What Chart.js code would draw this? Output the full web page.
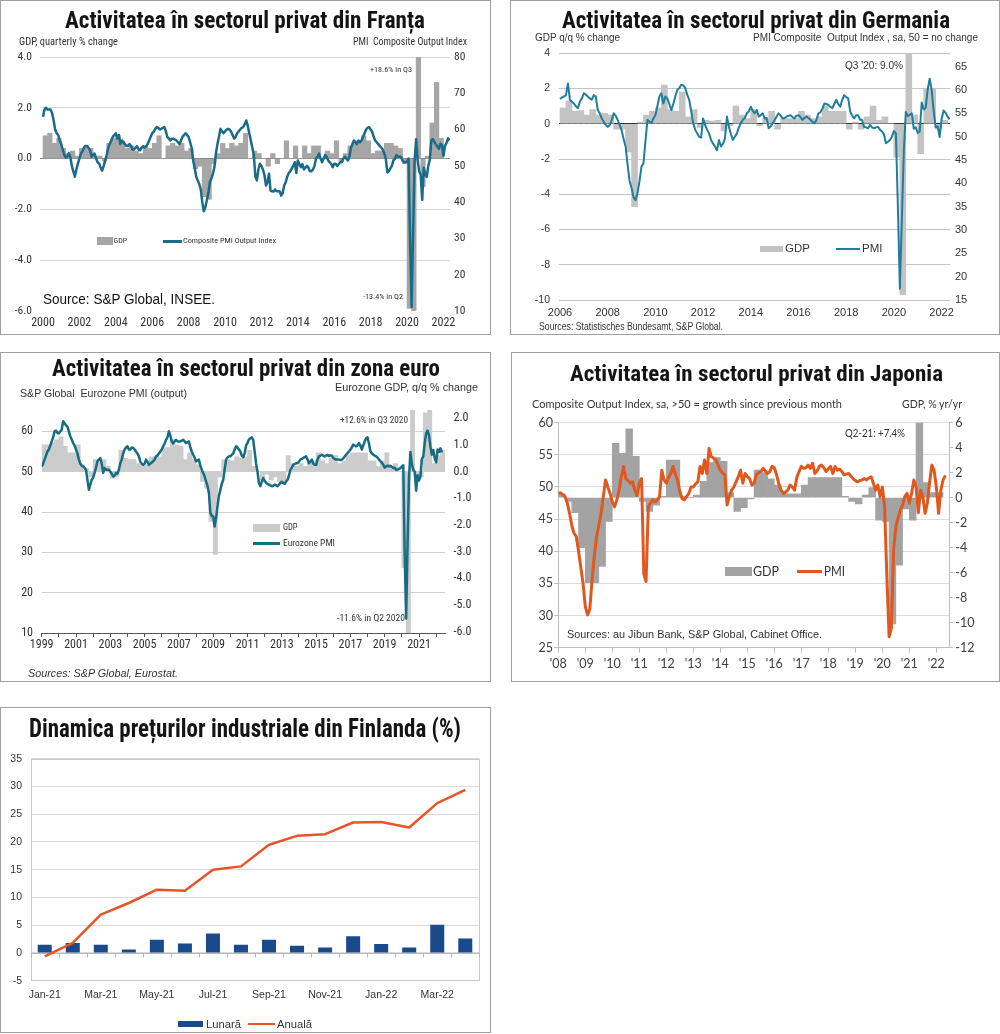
<!DOCTYPE html>
<html lang="ro">
<head>
<meta charset="utf-8">
<title>Activitatea în sectorul privat</title>
<script src="https://cdn.jsdelivr.net/npm/chart.js@4.4.1/dist/chart.umd.min.js"></script>
<style>
  html, body { margin: 0; padding: 0; background: #fff; }
  body { position: relative; width: 1000px; height: 1034px; overflow: hidden; }
  .panel { position: absolute; box-sizing: border-box; border: 1px solid #a0a0a0; }
  canvas { position: absolute; }
  .t { position: absolute; white-space: pre; transform-origin: 0 0; }
  .sw { position: absolute; }
</style>
</head>
<body>
<div class="panel" style="left:0;top:0;width:491px;height:335px"></div>
<div class="panel" style="left:510px;top:0;width:490px;height:335px"></div>
<div class="panel" style="left:0;top:352px;width:491px;height:330px"></div>
<div class="panel" style="left:511px;top:352px;width:489px;height:330px"></div>
<div class="panel" style="left:0;top:707px;width:491px;height:326px"></div>
<script>
const NARROW = '"Liberation Sans Narrow", "Arial Narrow", "Roboto Condensed", "DejaVu Sans Condensed", sans-serif';
const ARIAL = '"Liberation Sans", Arial, sans-serif';
const CALIBRI = 'Lato, "Open Sans", sans-serif';

// ---------- France: GDP q/q (left), PMI (right) ----------
const frYears = [2000, 2002, 2004, 2006, 2008, 2010, 2012, 2014, 2016, 2018, 2020, 2022];
const frGdpTicks = [-6, -4, -2, 0, 2, 4];
const frPmiTicks = [10, 20, 30, 40, 50, 60, 70, 80];
// quarterly, 2000Q1 - 2022Q1
const frGdp = [
  0.9, 1.0, 0.6, 0.8,   0.4, 0.2, 0.3, 0.1,   0.4, 0.5, 0.4, 0.1,   0.1, -0.1, 0.6, 0.8,
  0.9, 0.7, 0.4, 0.5,   0.3, 0.2, 0.5, 0.4,   0.6, 0.9, 0.0, 0.5,   0.6, 0.5, 0.6, 0.3,
  0.4, -0.4, -0.3, -1.5, -1.6, -0.2, 0.2, 0.6, 0.4, 0.6, 0.5, 0.6,  1.0, 0.0, 0.3, 0.2,
  0.0, -0.3, 0.2, -0.2, 0.0, 0.7, 0.0, 0.5,   0.0, 0.5, 0.2, 0.5,   0.5, 0.0, 0.3, 0.2,
  0.7, -0.1, 0.2, 0.5,  0.7, 0.7, 0.9, 0.7,   0.2, 0.3, 0.3, 0.6,   0.6, 0.5, 0.4, -0.2,
  -5.9, -13.4, 18.6, -1.1, 0.1, 1.4, 3.0, 0.8, 0.0
];
// monthly, Jan 2000 - May 2022
const frPmi = [
  63.5, 65.5, 66, 65.5, 65.5, 65.5, 64.5, 62.5, 60, 59, 58.5, 57,
  56, 54.5, 53, 52.3, 52.5, 53.5, 52.5, 50, 48.5, 47, 49, 50.6,
  52, 53.4, 54, 55, 55.5, 55.5, 55, 54.3, 52.5, 53, 53.4, 52,
  51, 50.6, 49.5, 48.7, 50, 51.5, 53, 55, 56, 57, 58, 58.5,
  59, 57.5, 58.5, 56, 57, 56.5, 56, 55.5, 55.5, 56, 55.5, 54.5,
  54.5, 55, 55.4, 54.5, 54.3, 55, 55.4, 55, 55.4, 56, 57, 58,
  59, 59.4, 60.2, 60.7, 60.5, 60, 60.2, 60.5, 60.7, 59.5, 57.9, 57.5,
  57, 57.5, 57.5, 57.2, 57, 56.5, 56, 57, 58, 58.5, 59, 58.5,
  58, 56.5, 55, 51.5, 49.5, 47, 46, 45, 43.5, 40, 37.5, 38.5,
  40.5, 42.5, 45.5, 46.5, 47.8, 49.6, 53.4, 56, 58, 60.2, 59.5, 59,
  59.5, 60, 60.2, 60, 59.4, 58.5, 57.5, 58, 59, 59.5, 60, 60.5,
  60.7, 61.5, 62.5, 61, 59, 57, 55, 53, 47, 46, 49, 50.6,
  50, 49, 47.4, 44.6, 45.5, 47.8, 43.2, 43, 42.9, 43.5, 43, 43,
  43, 41.8, 42.5, 44.6, 45.5, 47, 48, 48.5, 49.3, 50, 51, 48,
  51.5, 50.5, 49.6, 50.5, 49, 49.5, 50, 49.5, 48.5, 48.5, 49, 50,
  52, 52.5, 53.4, 52, 51, 52, 53, 52.5, 51.5, 51, 50.5, 49.6,
  50.6, 50.5, 50, 50.5, 51, 51, 52, 52.5, 52, 51.5, 52.5, 55,
  56, 57, 56.5, 56, 57, 56.5, 57, 58, 59, 60, 60.5, 60.7,
  60, 59.4, 58, 57, 56.5, 56, 55.5, 55, 54.5, 53.4, 52, 48.2,
  48.5, 49.3, 50, 51.5, 52, 53, 52.5, 52.5, 52.5, 51.5, 51, 51,
  51.1, 52, 28.9, 11.1, 32.1, 51.7, 57.3, 51.6, 48.5, 47.5, 40.6, 49.5,
  47.7, 47, 50, 51.6, 57, 57.4, 56.6, 55.9, 55.3, 54.7, 56.1, 55.8,
  52.7, 55.5, 56.3, 57.6, 57
];

// ---------- Germany: GDP q/q (left), PMI (right) ----------
const deYears = [2006, 2008, 2010, 2012, 2014, 2016, 2018, 2020, 2022];
const deGdpTicks = [-10, -8, -6, -4, -2, 0, 2, 4];
const dePmiTicks = [15, 20, 25, 30, 35, 40, 45, 50, 55, 60, 65];
// quarterly, 2006Q1 - 2022Q1
const deGdp = [
  0.9, 1.3, 0.7, 0.75,  0.5, 0.8, 0.5, 0.6,   0.5, -0.3, -0.3, -1.6, -4.7, 0.1, 0.5, 0.7,
  0.9, 2.2, 0.8, 0.7,   1.8, 0.4, 0.8, -0.2,  0.2, 0.15, 0.2, -0.4, -0.1, 1.0, 0.5, 0.3,
  0.8, -0.1, 0.3, 0.7,  -0.3, 0.3, 0.3, 0.3,  0.7, 0.5, 0.3, 0.4,   1.0, 0.7, 0.7, 0.7,
  -0.3, 0.1, -0.3, 0.4, 1.0, 0.2, 0.4, 0.0,   -1.9, -9.7, 9.0, 0.5, -1.7, 2.0, 2.0, -0.3,
  0.2
];
// monthly, Jan 2006 - May 2022
const dePmi = [
  58.1, 58.4, 58.6, 58.9, 61.4, 57.9, 57.5, 57.1, 56.5, 56.1, 57.5, 58.2,
  59.3, 59, 58.6, 58.2, 57.9, 58.9, 58.6, 55.7, 55, 53.9, 53.2, 52.5,
  52.1, 52.5, 53.5, 55, 54.5, 53.6, 52.5, 51.4, 49.5, 47.9, 44, 40.5,
  39, 37, 36.4, 37.9, 40.5, 43.6, 44.3, 49, 53.6, 53.2, 52.9, 53.9,
  54.6, 56.5, 58.6, 59.3, 57.1, 58.6, 58.2, 57, 55.7, 57, 58.6, 60,
  60.4, 61.1, 61, 60.4, 59, 57.9, 55.5, 52.9, 51.5, 50.7, 50, 49.8,
  53.9, 52.5, 51.5, 50.7, 49.3, 48.5, 47.9, 47.1, 49.3, 47.9, 48.5, 49.6,
  54.3, 52.1, 50.5, 49.3, 50, 50.7, 52, 52.9, 53.6, 54, 55, 55.4,
  56.4, 55.5, 55, 55.7, 54.3, 54.6, 55, 53.9, 54, 51.8, 52.2, 52.9,
  53.5, 54.3, 55, 54.5, 53.9, 54, 54.3, 54.5, 54.6, 54.2, 53.9, 54.5,
  54.6, 54.2, 53.6, 54, 54.3, 54, 53.6, 53.2, 52.9, 53.5, 55, 55.2,
  56, 57.1, 57, 56.8, 56.4, 56.1, 57, 57.9, 57, 56.4, 57.9, 58.9,
  58.5, 58.2, 55.4, 54.5, 53.9, 54.6, 54.6, 53.6, 53.6, 52.1, 52, 51.8,
  52.5, 52, 51.8, 52, 52.1, 51.5, 51.1, 50.5, 48.6, 48.9, 49.3, 50,
  51.2, 50.7, 35.0, 17.4, 32.3, 47.0, 55.3, 54.4, 54.7, 55.0, 51.7, 52.0,
  50.8, 51.1, 57.3, 55.8, 56.2, 60.1, 62.4, 60.0, 55.5, 52.0, 52.2, 49.9,
  53.8, 55.6, 55.1, 54.3, 53.7
];

// ---------- Euro area: PMI (left), GDP q/q (right) ----------
const euYears = [1999, 2000, 2001, 2002, 2003, 2004, 2005, 2006, 2007, 2008, 2009, 2010,
                 2011, 2012, 2013, 2014, 2015, 2016, 2017, 2018, 2019, 2020, 2021, 2022];
const euYearLabels = [1999, 2001, 2003, 2005, 2007, 2009, 2011, 2013, 2015, 2017, 2019, 2021];
const euPmiTicks = [10, 20, 30, 40, 50, 60];
const euGdpTicks = [-6, -5, -4, -3, -2, -1, 0, 1, 2];
// quarterly, 1999Q1 - 2022Q2
const euGdp = [
  1.0, 1.0, 1.1, 1.2,   1.3, 0.95, 0.7, 0.7,  1.0, 0.25, 0.1, -0.2,  0.45, 0.45, 0.45, 0.2,
  -0.25, -0.2, 0.8, 0.5, 0.45, 0.45, 0.3, 0.25, 0.25, 0.55, 0.55, 0.55, 0.9, 0.9, 1.2, 1.0,
  0.95, 0.45, 0.7, 0.45, 0.25, -0.37, -0.62, -1.87, -3.1, -0.2, 0.44, 0.44, 0.4, 0.55, 0.5, 0.55,
  0.8, 0.2, 0.0, -0.3,  -0.1, -0.3, -0.2, -0.4, -0.4, 0.6, 0.3, 0.2,  0.3, 0.2, 0.4, 0.4,
  0.7, 0.4, 0.3, 0.5,   0.6, 0.3, 0.4, 0.6,   0.7, 0.7, 0.7, 0.7,   0.4, 0.4, 0.2, 0.4,
  0.7, 0.2, 0.3, 0.0,   -3.6, -11.6, 12.6, -0.2, -0.2, 2.2, 2.3, 0.3, 0.6, 0.8
];
// monthly, Jan 1999 - May 2022
const euPmi = [
  51.3, 52, 53, 54, 55, 55.5, 56.5, 57.5, 58.5, 60, 60.2, 59.6,
  59.5, 60, 60.4, 62.5, 62, 61.5, 61.2, 60, 58.8, 58, 57.1, 56.5,
  55.5, 54.5, 53, 52, 51.5, 51.3, 51, 50.5, 48, 45.5, 46.8, 48,
  48.5, 49.7, 51, 52.6, 53, 53.4, 52, 49.7, 50.9, 50.5, 50.5, 50.5,
  50, 49.5, 48.8, 49, 49.7, 49.5, 50.5, 52.1, 53, 54.5, 55.5, 56,
  56.3, 55.5, 55.5, 56, 55.9, 55.5, 55, 54.5, 53.8, 52.5, 52, 51.7,
  52, 53, 52.5, 51.7, 52, 52.3, 52.6, 53, 53.8, 54, 54.5, 55,
  55.5, 56.3, 57, 57.9, 58.5, 60, 59, 57.5, 57, 57.5, 57.9, 57.5,
  57.5, 57.5, 57.7, 57.9, 57.5, 57.1, 57.3, 57.5, 56, 55, 54.2, 53.5,
  52.6, 52.8, 53, 51.5, 50.5, 49.7, 48.8, 47.6, 46.5, 44.7, 39.8, 39,
  38.9, 36.4, 38.5, 41.4, 44, 45.5, 47, 48, 50.5, 53, 53.5, 53.8,
  53.8, 54.2, 54.5, 55.5, 56.3, 56, 55.5, 55, 54, 53.6, 54.5, 56.5,
  57.1, 58, 58.3, 58.5, 57.9, 55, 52.1, 50, 47.2, 46.4, 47.5, 48.4,
  47.8, 47.2, 47, 46.8, 46.6, 46.4, 46.5, 46.8, 46.6, 46.4, 46.8, 47.2,
  47.5, 47.2, 47, 47.6, 48, 49, 50.5, 51, 51.7, 51.9, 52.1, 52.1,
  52.5, 53, 53.2, 53.4, 53.6, 53.8, 53, 52.1, 52.5, 53, 52, 51.7,
  51.7, 53, 53.8, 54, 54.2, 54, 53.8, 54, 54.2, 53.9, 54, 54,
  53.4, 53.2, 53, 53, 53, 52.9, 53, 53.3, 53.8, 54.2, 54.6, 55,
  55.5, 56, 56.7, 56.5, 56.3, 56.5, 57.1, 56.5, 55.5, 56.5, 57.5, 58.3,
  58.5, 57, 55, 54.6, 54.2, 54, 53.8, 53.5, 53, 52.6, 52.2, 51.7,
  51, 51.3, 51.5, 51.3, 51.5, 51.2, 50.9, 51, 50.5, 50.5, 50.7, 50.9,
  51.3, 51.6, 29.7, 13.6, 31.9, 48.5, 54.9, 51.9, 50.4, 50.0, 45.3, 49.1,
  47.8, 48.8, 53.2, 53.8, 57.1, 59.5, 60.2, 59.0, 56.2, 54.2, 55.4, 53.3,
  52.3, 55.5, 54.9, 55.8, 54.8
];

// ---------- Japan: PMI (left), GDP y/y (right) ----------
const jpYears = [2008, 2009, 2010, 2011, 2012, 2013, 2014, 2015, 2016, 2017, 2018, 2019, 2020, 2021, 2022];
const jpYearLabels = ["'08", "'09", "'10", "'11", "'12", "'13", "'14", "'15", "'16", "'17", "'18", "'19", "'20", "'21", "'22"];
const jpPmiTicks = [25, 30, 35, 40, 45, 50, 55, 60];
const jpGdpTicks = [-12, -10, -8, -6, -4, -2, 0, 2, 4, 6];
// quarterly, 2008Q1 - 2022Q1
const jpGdp = [
  0.3, -0.3, -1.2, -4.0,  -6.8, -6.8, -5.5, -1.9,  4.35, 3.55, 5.5, 3.3,  -0.3, -1.1, -0.6, 0.1,
  3.0, 3.0, 0.1, 0.0,     0.2, 1.3, 2.8, 3.2,      2.9, 0.4, -1.1, -0.8,  -0.1, 2.2, 2.0, 1.5,
  1.0, 0.3, 0.3, 0.3,     1.0, 1.6, 1.6, 1.6,      1.6, 1.6, 0.1, -0.3,   -0.5, 0.2, 0.8, -1.8,
  -1.9, -10.1, -5.4, -0.9, -1.8, 7.4, 1.2, 0.4,    0.4
];
// monthly, Jan 2008 - May 2022
const jpPmi = [
  49, 49.1, 48.8, 48.5, 47.5, 45.9, 44, 42.8, 42.3, 40, 37.5, 35,
  31.4, 30.1, 31, 35.5, 39.2, 42.3, 44, 45.9, 48.5, 51.1, 50, 49,
  47.7, 46.9, 48, 49.5, 51.6, 53.2, 51.3, 51, 50.6, 50.8, 49.5, 48.7,
  50.6, 51.3, 36.5, 35.3, 46.9, 47.5, 48, 47.7, 48, 48.5, 52.6, 51.1,
  50.6, 51.5, 52.1, 53.2, 52, 51.1, 49.3, 48.2, 48, 48.5, 49, 50,
  50, 50.5, 50.8, 53.2, 52.1, 54.2, 52.1, 56, 54.7, 54.5, 54.2, 53.4,
  52.6, 52.2, 51.9, 47.2, 48.5, 49.5, 50, 50.8, 51.6, 52.6, 50.6, 52.1,
  51.6, 51.3, 50.3, 50.6, 51.9, 52.2, 52.4, 52.9, 52.5, 52.1, 52.4, 53.2,
  53, 51.9, 50.5, 49.5, 49, 49.2, 49.5, 50.3, 50, 49.5, 51.5, 52.4,
  53.2, 52.9, 53, 53.4, 52.9, 53.7, 52.1, 52.5, 53.2, 53.4, 53, 52.4,
  52.8, 53.2, 52.1, 53.2, 52.6, 52.8, 52.4, 51.9, 52, 52.1, 51.7, 51.3,
  51, 50.8, 51, 51.1, 51.3, 51.1, 51.4, 51.6, 50.6, 49.5, 50.3, 48.5,
  50, 47, 36.2, 26.7, 28, 40.2, 43.8, 45.2, 46.4, 47.2, 48.5, 49,
  47.5, 49, 51.1, 50, 46, 49.5, 48.5, 45.9, 47.5, 50.7, 53.4, 52.6,
  50, 45.9, 49.5, 51.1, 51.8
];

// ---------- Finland: industrial producer prices, % ----------
const fiMonths = ['Jan-21', 'Feb-21', 'Mar-21', 'Apr-21', 'May-21', 'Jun-21', 'Jul-21', 'Aug-21',
                  'Sep-21', 'Oct-21', 'Nov-21', 'Dec-21', 'Jan-22', 'Feb-22', 'Mar-22', 'Apr-22'];
const fiMonthly = [1.5, 1.8, 1.5, 0.6, 2.4, 1.7, 3.5, 1.5, 2.4, 1.3, 1.0, 3.0, 1.6, 1.0, 5.1, 2.6];
const fiAnnual = [-0.6, 1.8, 6.9, 9.0, 11.4, 11.2, 15.0, 15.6, 19.5, 21.1, 21.4, 23.5, 23.6, 22.6, 27.0, 29.4];
const fiTicks = [-5, 0, 5, 10, 15, 20, 25, 30, 35];

// ---------- helpers ----------
Chart.defaults.font.family = ARIAL;
Chart.defaults.color = '#333';

const quarters = (start, vals) => vals.map((v, i) => ({ x: start + i / 4 + 0.125, y: v }));
const months = (start, vals) => vals.map((v, i) => ({ x: start + i / 12, y: v }));
const ticksFrom = arr => s => { s.ticks = arr.map(v => ({ value: v })); };
const fitW = w => s => { s.width = w; };
const fitH = h => s => { s.height = h; };
const font = (family, size) => ({ family, size });
const NOGRID = { display: false, drawTicks: false };

function chartAt(box, area, lw, rw, xh, config) {
  const c = document.createElement('canvas');
  c.width = box.w; c.height = box.h;
  c.style.left = box.x + 'px'; c.style.top = box.y + 'px';
  c.style.width = box.w + 'px'; c.style.height = box.h + 'px';
  document.body.appendChild(c);
  config.options.responsive = false;
  config.options.animation = false;
  config.options.events = [];
  config.options.plugins = Object.assign({ legend: { display: false }, tooltip: { enabled: false } }, config.options.plugins || {});
  config.options.layout = { padding: {
    left: area.l - box.x - lw, top: area.t - box.y,
    right: box.x + box.w - area.r - rw, bottom: box.y + box.h - area.b - xh } };
  return new Chart(c, config);
}

function lineSet(data, axis, color, width) {
  return { type: 'line', data, yAxisID: axis, borderColor: color, borderWidth: width,
           pointRadius: 0, borderJoinStyle: 'round', order: 0 };
}
function barSet(data, axis, color) {
  return { type: 'bar', data, yAxisID: axis, backgroundColor: color,
           barPercentage: 1, categoryPercentage: 1, clip: 0, order: 1 };
}

// ---------- France ----------
chartAt({ x: 0, y: 0, w: 490, h: 335 }, { l: 40, t: 57, r: 450, b: 311 }, 40, 40, 24, {
  type: 'line',
  data: { datasets: [lineSet(months(2000, frPmi), 'yR', '#1a6b89', 2.5), barSet(quarters(2000, frGdp), 'y', '#a6a6a6')] },
  options: { scales: {
    x: { type: 'linear', min: 1999.835, max: 2022.36, offset: false,
         afterBuildTicks: ticksFrom(frYears), afterFit: fitH(24),
         grid: NOGRID, border: { display: false },
         ticks: { padding: 4.8, font: font(NARROW, 12), autoSkip: false, maxRotation: 0, callback: v => String(v) } },
    y: { position: 'left', min: -6, max: 4, afterBuildTicks: ticksFrom(frGdpTicks), afterFit: fitW(40),
         border: { display: false },
         grid: { drawTicks: false, color: c => c.tick.value === 0 ? '#808080' : (c.tick.value === -6 ? 'rgba(0,0,0,0)' : '#d6d6d6') },
         ticks: { padding: 8, font: font(NARROW, 11.5), callback: v => v.toFixed(1) } },
    yR: { position: 'right', min: 10, max: 80, afterBuildTicks: ticksFrom(frPmiTicks), afterFit: fitW(40),
          border: { display: false }, grid: NOGRID,
          ticks: { padding: 4, font: font(NARROW, 11.5) } }
  } }
});

// ---------- Germany ----------
chartAt({ x: 510, y: 0, w: 490, h: 335 }, { l: 559, t: 53.3, r: 950, b: 300 }, 49, 50, 35, {
  type: 'line',
  data: { datasets: [lineSet(months(2006, dePmi), 'yR', '#1f7d9e', 2), barSet(quarters(2006, deGdp), 'y', '#c3c3c3')] },
  options: { scales: {
    x: { type: 'linear', min: 2005.958, max: 2022.352, offset: false,
         afterBuildTicks: ticksFrom(deYears), afterFit: fitH(35),
         grid: NOGRID, border: { display: false },
         ticks: { padding: 6.4, font: font(ARIAL, 11), autoSkip: false, maxRotation: 0, callback: v => String(v) } },
    y: { position: 'left', min: -10, max: 4, afterBuildTicks: ticksFrom(deGdpTicks), afterFit: fitW(49),
         border: { display: false },
         grid: { drawTicks: false, color: c => c.tick.value === 0 ? '#333333' : '#c4c4c4' },
         ticks: { padding: 9, font: font(ARIAL, 10.5), callback: v => String(v) } },
    yR: { position: 'right', min: 15, max: 67.86, afterBuildTicks: ticksFrom(dePmiTicks), afterFit: fitW(50),
          border: { display: false }, grid: NOGRID,
          ticks: { padding: 5, font: font(ARIAL, 11) } }
  } }
});

// ---------- Euro area ----------
chartAt({ x: 0, y: 352, w: 490, h: 330 }, { l: 41.7, t: 410, r: 445, b: 633 }, 41.7, 45, 49, {
  type: 'line',
  data: { datasets: [lineSet(months(1999, euPmi), 'y', '#156d84', 2.5), barSet(quarters(1999, euGdp), 'yR', '#cccccc')] },
  options: { scales: {
    x: { type: 'linear', min: 1999, max: 2022.516, offset: false,
         afterBuildTicks: ticksFrom(euYears), afterFit: fitH(49),
         grid: { display: true, drawOnChartArea: false, drawTicks: true, tickLength: 4, tickColor: '#555', offset: false },
         border: { display: true, color: '#555', width: 1 },
         ticks: { padding: 1.1, font: font(NARROW, 12), autoSkip: false, maxRotation: 0,
                  callback: v => euYearLabels.includes(v) ? String(v) : '' } },
    y: { position: 'left', min: 10, max: 65.3, afterBuildTicks: ticksFrom(euPmiTicks), afterFit: fitW(41.7),
         border: { display: false },
         grid: { drawTicks: false, color: c => c.tick.value === 10 ? 'rgba(0,0,0,0)' : '#cfcfcf' },
         ticks: { padding: 8.7, font: font(NARROW, 12) } },
    yR: { position: 'right', min: -6.05, max: 2.31, afterBuildTicks: ticksFrom(euGdpTicks), afterFit: fitW(45),
          border: { display: false }, grid: NOGRID,
          ticks: { padding: 8.5, font: font(NARROW, 12), callback: v => v.toFixed(1) } }
  } }
});

// ---------- Japan ----------
chartAt({ x: 511, y: 352, w: 489, h: 330 }, { l: 558.3, t: 422.7, r: 949.3, b: 647.7 }, 47.3, 50.7, 34.3, {
  type: 'line',
  data: { datasets: [lineSet(months(2008, jpPmi), 'y', '#e2571e', 3), barSet(quarters(2008, jpGdp), 'yR', '#a3a3a3')] },
  options: { scales: {
    x: { type: 'linear', min: 2008, max: 2022.48, offset: false,
         afterBuildTicks: ticksFrom(jpYears), afterFit: fitH(34.3),
         grid: { display: true, drawOnChartArea: false, tickLength: 5, tickColor: '#bfbfbf', offset: false },
         border: { display: true, color: '#bfbfbf' },
         ticks: { padding: 3.7, font: font(CALIBRI, 12.5), color: '#404040', autoSkip: false, maxRotation: 0,
                  callback: (v, i) => jpYearLabels[i] } },
    y: { position: 'left', min: 25, max: 60, afterBuildTicks: ticksFrom(jpPmiTicks), afterFit: fitW(47.3),
         border: { display: true, color: '#bfbfbf' },
         grid: { color: '#dcdcdc', tickLength: 4, tickColor: '#bfbfbf' },
         ticks: { padding: 1.3, font: font(CALIBRI, 12.5), color: '#404040' } },
    yR: { position: 'right', min: -12, max: 6, afterBuildTicks: ticksFrom(jpGdpTicks), afterFit: fitW(50.7),
          border: { display: true, color: '#bfbfbf' },
          grid: { drawOnChartArea: false, tickLength: 4, tickColor: '#bfbfbf' },
          ticks: { padding: 2, font: font(CALIBRI, 12.5), color: '#404040' } }
  } }
});

// ---------- Finland ----------
const finFrame = {
  id: 'finFrame',
  beforeDatasetsDraw(chart) {
    const { ctx, chartArea: a, scales: { x, y } } = chart;
    ctx.save();
    ctx.lineWidth = 1;
    ctx.strokeStyle = '#c8c8c8';
    ctx.strokeRect(Math.round(a.left) + 0.5, Math.round(a.top) + 0.5, Math.round(a.width) - 1, Math.round(a.height) - 1);
    const y0 = Math.round(y.getPixelForValue(0)) + 0.5;
    ctx.strokeStyle = '#b8b8b8';
    ctx.beginPath();
    ctx.moveTo(a.left, y0); ctx.lineTo(a.right, y0);
    for (let i = 0; i <= fiMonths.length; i++) {
      const px = Math.round(x.getPixelForValue(i - 0.5)) + 0.5;
      ctx.moveTo(px, y0); ctx.lineTo(px, y0 + 4);
    }
    ctx.stroke();
    ctx.restore();
  }
};
chartAt({ x: 0, y: 707, w: 490, h: 327 }, { l: 30.7, t: 758.7, r: 479.3, b: 980.7 }, 30.7, 0, 53.3, {
  type: 'bar',
  data: { labels: fiMonths, datasets: [
    { type: 'line', label: 'Anuală', data: fiAnnual, borderColor: '#e8542a', borderWidth: 2.5, pointRadius: 0, borderJoinStyle: 'round', order: 0 },
    { type: 'bar', label: 'Lunară', data: fiMonthly, backgroundColor: '#1a4a8a', barPercentage: 0.5, categoryPercentage: 1, order: 1 }
  ] },
  options: { scales: {
    x: { afterFit: fitH(53.3), grid: NOGRID, border: { display: false },
         ticks: { padding: 8, font: font(ARIAL, 10.5), autoSkip: false, maxRotation: 0,
                  callback: (v, i) => i % 2 === 0 ? fiMonths[i] : '' } },
    y: { min: -5, max: 35, afterBuildTicks: ticksFrom(fiTicks), afterFit: fitW(30.7),
         border: { display: false }, grid: { drawTicks: false, color: '#dadada' },
         ticks: { padding: 8.7, font: font(ARIAL, 10.5) } }
  } },
  plugins: [finFrame]
});

// ---------- texts ----------
function txt(s, x, base, size, o) {
  o = o || {};
  const d = document.createElement('div');
  d.className = 't';
  d.textContent = s;
  d.style.fontFamily = o.family || ARIAL;
  d.style.fontSize = size + 'px';
  d.style.fontWeight = o.weight || 'normal';
  d.style.fontStyle = o.italic ? 'italic' : 'normal';
  d.style.lineHeight = size + 'px';
  d.style.color = o.color || '#333';
  d.style.top = (base - 0.85 * size) + 'px';
  document.body.appendChild(d);
  const natural = d.getBoundingClientRect().width;
  const sx = o.w ? o.w / natural : 1;
  const width = natural * sx;
  d.style.left = (o.align === 'right' ? x - width : x) + 'px';
  if (sx !== 1) d.style.transform = 'scaleX(' + sx.toFixed(4) + ')';
}
function sw(x, y, w, h, color) {
  const d = document.createElement('div');
  d.className = 'sw';
  d.style.cssText = `left:${x}px;top:${y}px;width:${w}px;height:${h}px;background:${color}`;
  document.body.appendChild(d);
}
const TITLE = { family: NARROW, weight: 'bold', color: '#141414' };

// France
txt('Activitatea în sectorul privat din Franța', 65, 28.5, 23, Object.assign({ w: 360 }, TITLE));
txt('GDP, quarterly % change', 19, 45, 11, { family: NARROW, w: 99 });
txt('PMI  Composite Output Index', 467, 45.5, 11, { family: NARROW, w: 114, align: 'right' });
txt('+18.6% in Q3', 370, 73, 8, { family: NARROW, w: 42 });
txt('-13.4% in Q2', 363, 300, 8, { family: NARROW, w: 40 });
txt('Source: S&P Global, INSEE.', 43, 304, 14, { w: 172, color: '#111' });
sw(97, 237, 16, 8, '#a6a6a6');
txt('GDP', 113.5, 244, 8, { family: NARROW });
sw(163, 239.5, 19, 3, '#1a6b89');
txt('Composite PMI Output Index', 182.5, 244, 8, { family: NARROW, w: 93 });

// Germany
txt('Activitatea în sectorul privat din Germania', 562, 28.5, 23, Object.assign({ w: 388 }, TITLE));
txt('GDP q/q % change', 535, 41.5, 11.5, { w: 85 });
txt('PMI Composite  Output Index , sa, 50 = no change', 978, 41.5, 11.5, { w: 225, align: 'right' });
txt("Q3 '20: 9.0%", 845, 69.5, 11, { w: 58 });
txt('Sources: Statistisches Bundesamt, S&P Global.', 539, 329.5, 10.5, { w: 184 });
sw(760, 246, 23, 6, '#c3c3c3');
txt('GDP', 785, 252.5, 11.5);
sw(836, 247.5, 24, 2, '#1f7d9e');
txt('PMI', 862, 252.5, 11.5);

// Euro area
txt('Activitatea în sectorul privat din zona euro', 52, 376.7, 23, Object.assign({ w: 388 }, TITLE));
txt('S&P Global  Eurozone PMI (output)', 20, 397, 10.5, { w: 167 });
txt('Eurozone GDP, q/q % change', 478, 391, 11, { w: 143, align: 'right' });
txt('+12.6% in Q3 2020', 408, 423.5, 8.5, { family: NARROW, w: 68, align: 'right' });
txt('-11.6% in Q2 2020', 405, 621.7, 8.5, { family: NARROW, w: 68, align: 'right' });
sw(253, 523.5, 27, 8, '#cccccc');
txt('GDP', 283, 530.5, 8.5, { family: NARROW });
sw(253, 541.5, 27, 3, '#156d84');
txt('Eurozone PMI', 283, 546.5, 8.5, { family: NARROW, w: 52 });
txt('Sources: S&P Global, Eurostat.', 28, 676.5, 10.5, { italic: true, w: 150 });

// Japan
txt('Activitatea în sectorul privat din Japonia', 570, 381.7, 22, Object.assign({ w: 373 }, TITLE));
txt('Composite Output Index, sa, >50 = growth since previous month', 531.7, 408, 11.5, { family: CALIBRI, w: 310 });
txt('GDP, % yr/yr', 961.7, 408, 11.5, { family: CALIBRI, w: 60, align: 'right' });
txt('Q2-21: +7.4%', 845, 437.5, 12, { family: CALIBRI, w: 60 });
sw(725, 566.5, 27, 9, '#a3a3a3');
txt('GDP', 752.5, 576, 14, { family: CALIBRI, w: 26 });
sw(797, 569.5, 25, 3, '#e2571e');
txt('PMI', 824, 576, 14, { family: CALIBRI, w: 21 });
txt('Sources: au Jibun Bank, S&P Global, Cabinet Office.', 566.7, 638.5, 11.5, { w: 255 });

// Finland
txt('Dinamica prețurilor industriale din Finlanda (%)', 29, 738, 25.5, Object.assign({ w: 432 }, TITLE));
sw(178, 1021, 25, 6, '#1a4a8a');
txt('Lunară', 205.5, 1028.5, 11, { w: 35 });
sw(248, 1022.8, 27, 2.5, '#e8542a');
txt('Anuală', 277, 1028.5, 11, { w: 35 });
</script>
</body>
</html>
